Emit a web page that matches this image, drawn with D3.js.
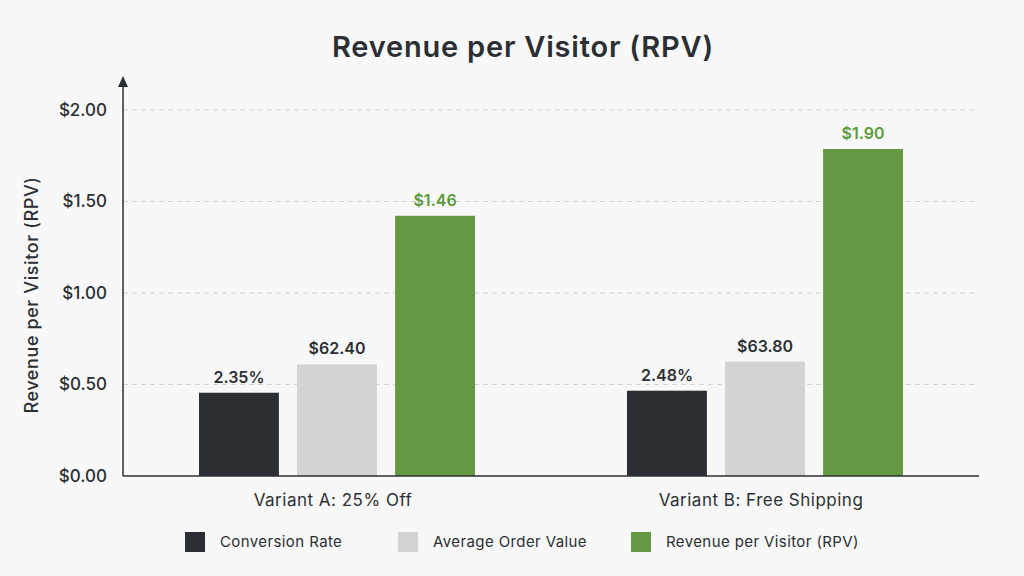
<!DOCTYPE html>
<html><head><meta charset="utf-8">
<script src="https://cdn.jsdelivr.net/npm/d3@7"></script>
<style>html,body{margin:0;padding:0;background:#f8f8f8;}svg{display:block;font-family:Inter,"Noto Sans",sans-serif;}</style>
</head><body><svg id="c" width="1024" height="576"></svg>
<script>
const categories = ["Variant A: 25% Off", "Variant B: Free Shipping"];
const seriesNames = ["Conversion Rate", "Average Order Value", "Revenue per Visitor (RPV)"];
const seriesColors = ["#2b2f33", "#d3d3d3", "#629942"];
const labelColors = ["#2b2f33", "#2b2f33", "#5b9a3c"];
// drawn bar heights (on the $ axis)
const variantAValues = [0.455, 0.61, 1.422];
const variantBValues = [0.466, 0.625, 1.787];
const variantALabels = ["2.35%", "$62.40", "$1.46"];
const variantBLabels = ["2.48%", "$63.80", "$1.90"];
const yTicks = [0, 0.5, 1.0, 1.5, 2.0];

const values = [variantAValues, variantBValues];
const labels = [variantALabels, variantBLabels];

const svg = d3.select("#c");
const pLeft = 123, pRight = 979, pTop = 110, pBottom = 476;

const x0 = d3.scaleBand().domain(categories).range([pLeft, pRight]);
const x1 = d3.scaleBand().domain(seriesNames).range([-138, 138]).paddingInner(0.185);
const y = d3.scaleLinear().domain([0, 2]).range([pBottom, pTop]);

// title
svg.append("text").attr("x", 523).attr("y", 57).attr("text-anchor", "middle")
  .attr("font-size", 29).attr("font-weight", 600).attr("letter-spacing", 0.8).attr("fill", "#2b2f33")
  .text("Revenue per Visitor (RPV)");

// gridlines
svg.append("g").selectAll("line").data(yTicks.filter(d => d > 0)).join("line")
  .attr("x1", pLeft).attr("x2", pRight).attr("y1", d => y(d)).attr("y2", d => y(d))
  .attr("stroke", "#d4d4d4").attr("stroke-width", 1).attr("stroke-dasharray", "5,4");

// y axis tick labels
const yAxis = d3.axisLeft(y).tickValues(yTicks).tickFormat(d => "$" + d.toFixed(2)).tickSize(0).tickPadding(16);
const gy = svg.append("g").attr("transform", `translate(${pLeft},0)`).call(yAxis);
gy.select(".domain").remove();
gy.selectAll("text").attr("font-size", 17).attr("font-weight", 500).attr("fill", "#2b2f33")
  .attr("font-family", "Inter,'Noto Sans',sans-serif");

// y axis line with arrow
svg.append("line").attr("x1", pLeft).attr("x2", pLeft).attr("y1", pBottom).attr("y2", 84)
  .attr("stroke", "#2b2f33").attr("stroke-width", 1.5);
svg.append("path").attr("d", `M${pLeft},76 L${pLeft-5},87 L${pLeft+5},87 Z`).attr("fill", "#2b2f33");

// y axis title
svg.append("text").attr("transform", "translate(38,295) rotate(-90)").attr("text-anchor", "middle")
  .attr("font-size", 18).attr("font-weight", 500).attr("letter-spacing", 0.6).attr("fill", "#2b2f33")
  .text("Revenue per Visitor (RPV)");

// bars
const groups = svg.append("g").selectAll("g").data(categories).join("g")
  .attr("transform", d => `translate(${x0(d) + x0.bandwidth() / 2},0)`);
groups.each(function (cat, ci) {
  const g = d3.select(this);
  const data = seriesNames.map((s, si) => ({ s, si, v: values[ci][si], l: labels[ci][si] }));
  g.selectAll("rect").data(data).join("rect")
    .attr("x", d => x1(d.s)).attr("width", x1.bandwidth())
    .attr("y", d => y(d.v)).attr("height", d => y(0) - y(d.v))
    .attr("fill", d => seriesColors[d.si]);
  g.selectAll("text.lbl").data(data).join("text").attr("class", "lbl")
    .attr("x", d => x1(d.s) + x1.bandwidth() / 2).attr("y", d => y(d.v) - 10)
    .attr("text-anchor", "middle").attr("font-size", 16).attr("font-weight", 600)
    .attr("fill", d => labelColors[d.si]).text(d => d.l);
});

// x axis baseline
svg.append("line").attr("x1", pLeft).attr("x2", pRight).attr("y1", pBottom).attr("y2", pBottom)
  .attr("stroke", "#2b2f33").attr("stroke-width", 1.5);

// category labels
const xAxis = d3.axisBottom(x0).tickSize(0).tickPadding(18);
const gx = svg.append("g").attr("transform", `translate(-4,${pBottom})`).call(xAxis);
gx.select(".domain").remove();
gx.selectAll("text").attr("font-size", 17).attr("font-weight", 400).attr("letter-spacing", 0.5)
  .attr("fill", "#2b2f33").attr("font-family", "Inter,'Noto Sans',sans-serif");

// legend
const legendX = [185, 398, 631];
const lg = svg.append("g").selectAll("g").data(seriesNames).join("g")
  .attr("transform", (d, i) => `translate(${legendX[i]},532)`);
lg.append("rect").attr("width", 20).attr("height", 20).attr("fill", (d, i) => seriesColors[i]);
lg.append("text").attr("x", 35).attr("y", 15).attr("font-size", 15).attr("letter-spacing", 0.4)
  .attr("fill", "#2b2f33").text(d => d);
</script></body></html>
